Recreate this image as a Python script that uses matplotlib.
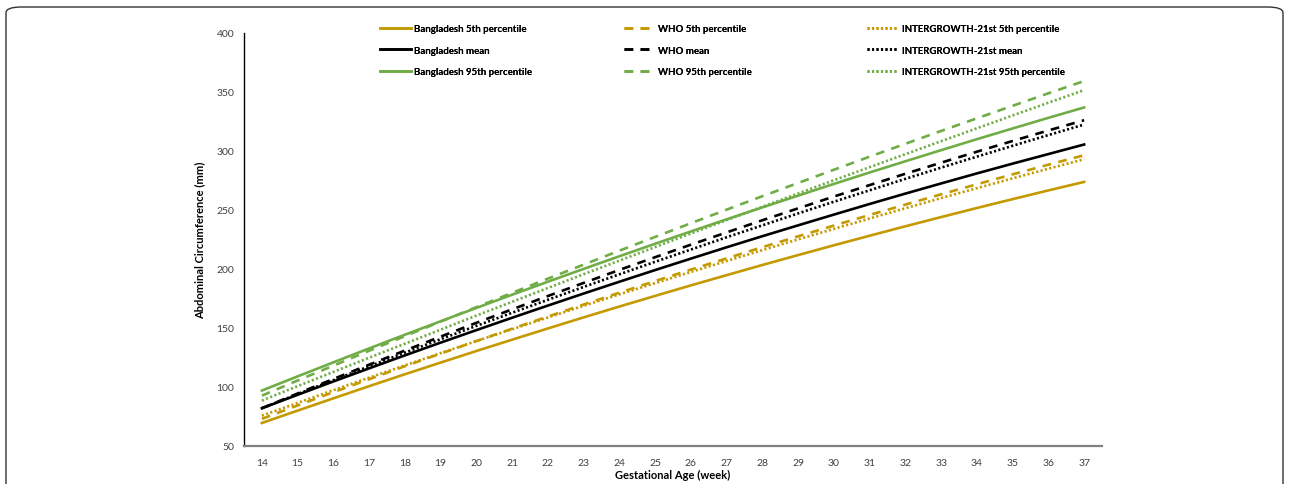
import numpy as np
import matplotlib
matplotlib.use('Agg')
import matplotlib.pyplot as plt
from matplotlib.patches import FancyBboxPatch

plt.rcParams['font.family'] = ['Lato', 'DejaVu Sans']

# Gestational age (weeks)
weeks = list(range(14, 38))

# Bangladesh reference (solid)
bd_p5 = [69.5, 80.0, 90.4, 100.7, 110.8, 120.7, 130.5, 140.1, 149.6, 159.0, 168.2, 177.2,
         186.1, 194.8, 203.4, 211.8, 220.1, 228.2, 236.2, 244.0, 251.7, 259.2, 266.6, 273.8]
bd_mean = [82.0, 93.4, 104.7, 115.8, 126.8, 137.6, 148.2, 158.7, 169.0, 179.2, 189.2, 199.1,
           208.8, 218.4, 227.8, 237.0, 246.1, 255.1, 263.9, 272.5, 281.0, 289.3, 297.4, 305.5]
bd_p95 = [97.0, 109.0, 120.9, 132.7, 144.3, 155.7, 167.0, 178.2, 189.2, 200.1, 210.8, 221.4,
          231.8, 242.1, 252.2, 262.2, 272.1, 281.8, 291.3, 300.7, 310.0, 319.1, 328.1, 336.9]

# WHO (dashed)
who_p5 = [73.0, 84.4, 95.6, 106.6, 117.6, 128.3, 138.9, 149.4, 159.7, 169.9, 179.9, 189.8,
          199.5, 209.0, 218.5, 227.7, 236.8, 245.8, 254.6, 263.3, 271.8, 280.2, 288.4, 296.4]
who_mean = [82.0, 94.5, 106.8, 118.9, 130.9, 142.7, 154.4, 165.8, 177.1, 188.2, 199.2, 210.0,
            220.6, 231.0, 241.3, 251.4, 261.4, 271.1, 280.7, 290.1, 299.4, 308.5, 317.4, 326.1]
who_p95 = [92.7, 105.5, 118.1, 130.7, 143.1, 155.4, 167.7, 179.8, 191.8, 203.7, 215.5, 227.2,
           238.8, 250.3, 261.7, 272.9, 284.1, 295.2, 306.1, 317.0, 327.7, 338.3, 348.9, 359.3]

# INTERGROWTH-21st (dotted)
ig_p5 = [75.7, 86.5, 97.3, 107.9, 118.3, 128.7, 138.9, 149.0, 158.9, 168.8, 178.5, 188.0,
         197.5, 206.8, 216.0, 225.1, 234.0, 242.8, 251.5, 260.1, 268.5, 276.8, 285.0, 293.0]
ig_mean = [82.0, 94.0, 105.8, 117.5, 129.1, 140.5, 151.8, 162.9, 173.9, 184.8, 195.5, 206.1,
           216.5, 226.9, 237.0, 247.1, 257.0, 266.7, 276.4, 285.9, 295.2, 304.4, 313.5, 322.4]
ig_p95 = [88.5, 100.7, 112.8, 124.8, 136.7, 148.6, 160.5, 172.2, 183.9, 195.6, 207.1, 218.6,
          230.1, 241.4, 252.8, 264.0, 275.2, 286.3, 297.3, 308.3, 319.2, 330.1, 340.9, 351.6]

gold = '#C49A00'
green = '#70AD47'
black = '#000000'

fig = plt.figure(figsize=(12.89, 4.85), dpi=100)

# rounded frame around the figure
frame = FancyBboxPatch((6 / 1289, -0.2), 1277 / 1289, 1.2 - 8 / 485,
                       boxstyle='round,pad=0,rounding_size=0.012',
                       transform=fig.transFigure, fill=False,
                       edgecolor='#333333', linewidth=1.0)
fig.patches.append(frame)

ax = fig.add_axes([244 / 1289, 1 - 447 / 485, (1102 - 244) / 1289, (447 - 34) / 485])

x = np.arange(len(weeks))
lw = 1.9
dash = (0, (3.3, 2.8))
dot = (0, (0.8, 0.9))

l1, = ax.plot(x, bd_p5, color=gold, lw=lw, label='Bangladesh 5th percentile')
l2, = ax.plot(x, bd_mean, color=black, lw=lw, label='Bangladesh mean')
l3, = ax.plot(x, bd_p95, color=green, lw=lw, label='Bangladesh 95th percentile')
l4, = ax.plot(x, who_p5, color=gold, lw=lw, ls=dash, label='WHO 5th percentile')
l5, = ax.plot(x, who_mean, color=black, lw=lw, ls=dash, label='WHO mean')
l6, = ax.plot(x, who_p95, color=green, lw=lw, ls=dash, label='WHO 95th percentile')
l7, = ax.plot(x, ig_p5, color=gold, lw=lw, ls=dot, label='INTERGROWTH-21st 5th percentile')
l8, = ax.plot(x, ig_mean, color=black, lw=lw, ls=dot, label='INTERGROWTH-21st mean')
l9, = ax.plot(x, ig_p95, color=green, lw=lw, ls=dot, label='INTERGROWTH-21st 95th percentile')

ax.set_xlim(-0.5, len(weeks) - 0.5)
ax.set_ylim(50, 400)
ax.set_xticks(x)
ax.set_xticklabels([str(w) for w in weeks])
ax.set_yticks(np.arange(50, 401, 50))
ax.tick_params(length=0, labelsize=7.5, colors='#404040', pad=9)
ax.tick_params(axis='y', pad=7)

for s in ['top', 'right']:
    ax.spines[s].set_visible(False)
ax.spines['left'].set_color('black')
ax.spines['left'].set_linewidth(1.0)
ax.spines['bottom'].set_color('#808080')
ax.spines['bottom'].set_linewidth(1.6)

ax.set_xlabel('Gestational Age (week)', fontsize=8, fontweight='bold', labelpad=1)
ax.set_ylabel('Abdominal Circumference (mm)', fontsize=8, fontweight='bold', labelpad=8)

# three legend columns, placed separately
groups = [([l1, l2, l3], 380), ([l4, l5, l6], 624), ([l7, l8, l9], 867)]
for handles, xpix in groups:
    leg = fig.legend(handles=handles, loc='upper left',
                     bbox_to_anchor=(xpix / 1289, 1 - 25 / 485),
                     frameon=False, fontsize=6.9, handlelength=3.25,
                     handletextpad=0.35, labelspacing=1.32, borderpad=0,
                     borderaxespad=0)
    for t in leg.get_texts():
        t.set_fontweight('bold')
    fig.add_artist(leg)

fig.savefig('out.png', dpi=100)
